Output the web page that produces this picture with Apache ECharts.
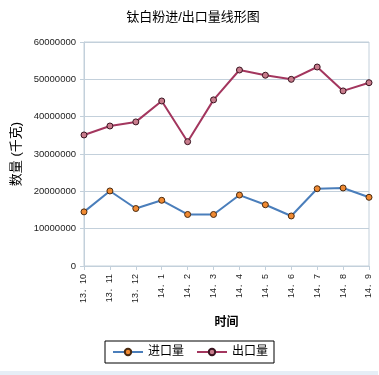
<!DOCTYPE html>
<html>
<head>
<meta charset="utf-8">
<script src="https://cdn.jsdelivr.net/npm/echarts@6/dist/echarts.min.js"></script>
<style>
html,body{margin:0;padding:0;background:#fff;}
#c{width:379px;height:375px;}
</style>
</head>
<body>
<div id="c"></div>
<script>
var categories = ['13．10','13．11','13．12','14．1','14．2','14．3','14．4','14．5','14．6','14．7','14．8','14．9'];
var importValues = [14500000, 20100000, 15400000, 17600000, 13800000, 13800000, 19000000, 16400000, 13400000, 20700000, 20900000, 18400000];
var exportValues = [35100000, 37500000, 38600000, 44200000, 33300000, 44500000, 52500000, 51100000, 50000000, 53300000, 46900000, 49100000];
var yTicks = [0, 10000000, 20000000, 30000000, 40000000, 50000000, 60000000];

var font = '"Liberation Sans", Arial, "Noto Sans CJK SC", sans-serif';
var chart = echarts.init(document.getElementById('c'), null, {renderer: 'canvas'});
chart.setOption({
  animation: false,
  backgroundColor: '#ffffff',
  textStyle: {fontFamily: font},
  title: {
    text: '钛白粉进/出口量线形图',
    left: 188, top: 6, textAlign: 'center',
    textStyle: {fontSize: 13, fontWeight: 'normal', color: '#000', fontFamily: font}
  },
  grid: {left: 84, right: 10, top: 42, bottom: 109, show: true, borderColor: '#c3d0db', borderWidth: 1},
  legend: {
    left: 105, top: 341,
    padding: [5, 6, 5, 7],
    itemWidth: 30, itemHeight: 8, itemGap: 12,
    borderColor: '#000', borderWidth: 1,
    textStyle: {fontSize: 12, color: '#000', fontFamily: font, padding: [0,0,0,0]},
    data: ['进口量', '出口量']
  },
  xAxis: {
    type: 'category',
    data: categories,
    boundaryGap: false,
    name: '时间',
    nameLocation: 'middle',
    nameGap: 51,
    nameTextStyle: {fontSize: 12, color: '#000', fontWeight: 'bold', fontFamily: font},
    axisLine: {lineStyle: {color: '#c3d0db'}},
    axisTick: {show: true, alignWithLabel: true, length: 4, lineStyle: {color: '#c3d0db'}},
    axisLabel: {rotate: 90, fontSize: 9, color: '#222', margin: 8, interval: 0, fontFamily: font},
    splitLine: {show: false}
  },
  yAxis: {
    type: 'value',
    min: yTicks[0], max: yTicks[yTicks.length - 1], interval: 10000000,
    name: '数量 (千克)',
    nameLocation: 'middle',
    nameGap: 57,
    nameRotate: 90,
    nameTextStyle: {fontSize: 13, color: '#000', fontFamily: font},
    axisLine: {show: true, lineStyle: {color: '#c3d0db'}},
    axisTick: {show: true, length: 4, lineStyle: {color: '#c3d0db'}},
    axisLabel: {fontSize: 9.5, color: '#222', margin: 8, fontFamily: font,
      formatter: function (v) { return String(v); }},
    splitLine: {lineStyle: {color: '#c3d0db', width: 1}}
  },
  series: [
    {
      name: '进口量', type: 'line', data: importValues,
      symbol: 'circle', symbolSize: 6,
      lineStyle: {color: '#4a7ebb', width: 2},
      itemStyle: {color: '#f08a32', borderColor: '#4a2a10', borderWidth: 1}
    },
    {
      name: '出口量', type: 'line', data: exportValues,
      symbol: 'circle', symbolSize: 6,
      lineStyle: {color: '#a3365e', width: 2},
      itemStyle: {color: '#c87c8c', borderColor: '#3a1420', borderWidth: 1}
    }
  ],
  graphic: [
    {type: 'rect', shape: {x: 0, y: 371, width: 378, height: 4}, style: {fill: '#e6eef6'}, silent: true}
  ]
});
</script>
</body>
</html>
